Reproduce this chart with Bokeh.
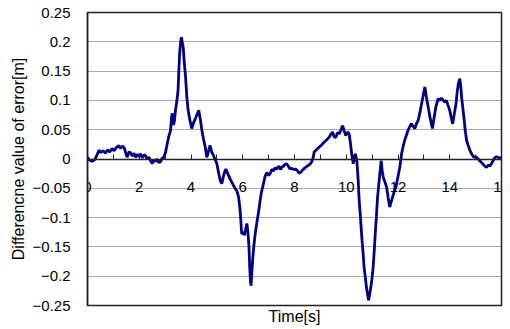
from bokeh.plotting import figure
from bokeh.models import LinearAxis, FixedTicker, Range1d
from bokeh.embed import file_html
from bokeh.resources import INLINE

time_s = [0.00, 0.08, 0.18, 0.28, 0.36, 0.44, 0.52, 0.60, 0.70, 0.78, 0.86, 0.95, 1.03, 1.12, 1.21, 1.28, 1.35, 1.42, 1.48, 1.53,
          1.60, 1.66, 1.73, 1.80, 1.86, 1.93, 2.00, 2.05, 2.12, 2.18, 2.24, 2.30, 2.37, 2.44, 2.50, 2.56, 2.63, 2.69, 2.75, 2.82,
          2.88, 2.95, 3.02, 3.08, 3.14, 3.21, 3.25, 3.28, 3.32, 3.36, 3.40, 3.45, 3.50, 3.53, 3.56, 3.60, 3.63, 3.66, 3.70, 3.74,
          3.79, 3.84, 3.89, 3.95, 4.03, 4.10, 4.18, 4.25, 4.30, 4.36, 4.42, 4.48, 4.55, 4.61, 4.66, 4.70, 4.74, 4.80, 4.87, 4.94,
          5.00, 5.06, 5.13, 5.19, 5.25, 5.30, 5.35, 5.42, 5.51, 5.58, 5.64, 5.70, 5.77, 5.84, 5.90, 5.96, 6.02, 6.07, 6.12, 6.16,
          6.20, 6.24, 6.27, 6.30, 6.32, 6.35, 6.39, 6.43, 6.48, 6.53, 6.58, 6.63, 6.67, 6.73, 6.80, 6.86, 6.93, 7.00, 7.06, 7.12,
          7.19, 7.25, 7.32, 7.40, 7.46, 7.51, 7.58, 7.64, 7.70, 7.77, 7.83, 7.90, 7.97, 8.03, 8.10, 8.17, 8.24, 8.31, 8.38, 8.44,
          8.52, 8.60, 8.66, 8.72, 8.76, 8.85, 8.95, 9.05, 9.15, 9.25, 9.34, 9.40, 9.47, 9.53, 9.60, 9.66, 9.73, 9.80, 9.86, 9.92,
          9.98, 10.05, 10.11, 10.16, 10.21, 10.27, 10.31, 10.35, 10.41, 10.46, 10.50, 10.55, 10.60, 10.65, 10.69, 10.74, 10.78,
          10.83, 10.86, 10.90, 10.95, 11.00, 11.04, 11.08, 11.12, 11.17, 11.21, 11.26, 11.30, 11.35, 11.39, 11.43, 11.50, 11.56,
          11.62, 11.68, 11.73, 11.79, 11.85, 11.92, 12.00, 12.07, 12.14, 12.20, 12.26, 12.32, 12.39, 12.45, 12.52, 12.58, 12.65,
          12.72, 12.78, 12.85, 12.91, 12.98, 13.04, 13.10, 13.17, 13.25, 13.33, 13.40, 13.46, 13.55, 13.62, 13.68, 13.75, 13.81,
          13.87, 13.93, 14.00, 14.06, 14.11, 14.18, 14.24, 14.29, 14.33, 14.39, 14.43, 14.46, 14.51, 14.56, 14.60, 14.65, 14.72,
          14.78, 14.85, 14.93, 15.00, 15.10, 15.18, 15.27, 15.35, 15.42, 15.50, 15.56, 15.61, 15.70, 15.76, 15.81, 15.90, 16.00]

error_m = [0.003, -0.002, -0.004, -0.001, 0.006, 0.015, 0.011, 0.014, 0.010, 0.016, 0.012, 0.018, 0.014, 0.020, 0.023, 0.018, 0.022, 0.019, 0.010, 0.003,
           0.012, 0.011, 0.005, 0.010, 0.003, 0.008, 0.004, 0.009, 0.002, 0.007, 0.006, 0.000, 0.003, -0.003, -0.008, -0.002, -0.004, 0.000, -0.006, -0.005,
           0.001, 0.003, 0.012, 0.026, 0.038, 0.049, 0.072, 0.078, 0.058, 0.065, 0.083, 0.098, 0.117, 0.150, 0.180, 0.200, 0.208, 0.200, 0.190, 0.165,
           0.140, 0.105, 0.083, 0.068, 0.052, 0.062, 0.070, 0.078, 0.083, 0.068, 0.049, 0.035, 0.020, 0.003, 0.010, 0.018, 0.023, 0.012, 0.006, -0.002,
           -0.008, -0.022, -0.037, -0.042, -0.030, -0.022, -0.017, -0.025, -0.034, -0.040, -0.045, -0.050, -0.054, -0.065, -0.088, -0.128, -0.125, -0.130, -0.118, -0.110,
           -0.125, -0.150, -0.185, -0.210, -0.216, -0.195, -0.168, -0.148, -0.128, -0.113, -0.099, -0.085, -0.071, -0.055, -0.042, -0.030, -0.023, -0.028, -0.025, -0.018,
           -0.020, -0.015, -0.017, -0.012, -0.018, -0.014, -0.012, -0.009, -0.008, -0.013, -0.017, -0.016, -0.018, -0.017, -0.019, -0.024, -0.023, -0.019, -0.016, -0.014,
           -0.011, -0.009, -0.005, 0.002, 0.012, 0.016, 0.020, 0.024, 0.029, 0.033, 0.037, 0.042, 0.046, 0.038, 0.037, 0.045, 0.043, 0.050, 0.057, 0.048,
           0.040, 0.046, 0.043, 0.028, 0.009, -0.008, 0.000, 0.009, -0.003, -0.035, -0.071, -0.100, -0.133, -0.160, -0.185, -0.203, -0.219,
           -0.232, -0.241, -0.232, -0.219, -0.202, -0.185, -0.158, -0.128, -0.095, -0.065, -0.042, -0.025, -0.003, -0.020, -0.031, -0.040, -0.048,
           -0.066, -0.082, -0.074, -0.065, -0.056, -0.048, -0.030, -0.014, 0.009, 0.022, 0.032, 0.040, 0.049, 0.055, 0.060, 0.056, 0.052,
           0.061, 0.066, 0.080, 0.094, 0.110, 0.123, 0.105, 0.088, 0.068, 0.052, 0.072, 0.088, 0.103, 0.100, 0.104, 0.100, 0.097,
           0.100, 0.092, 0.083, 0.070, 0.060, 0.078, 0.094, 0.115, 0.128, 0.137, 0.122, 0.105, 0.085, 0.066, 0.048, 0.032, 0.022,
           0.015, 0.008, 0.003, 0.004, 0.000, -0.004, -0.008, -0.012, -0.014, -0.010, -0.012, -0.008, -0.001, 0.003, 0.004, 0.002, 0.002]

x_ticks = list(range(0, 17))
x_tick_labels = {t: (str(t) if t % 2 == 0 else "") for t in x_ticks}
y_ticks = [-0.25, -0.2, -0.15, -0.1, -0.05, 0.0, 0.05, 0.1, 0.15, 0.2, 0.25]
y_tick_labels = ["\u22120.25", "\u22120.2", "\u22120.15", "\u22120.1", "\u22120.05", "0", "0.05", "0.1", "0.15", "0.2", "0.25"]

FONT = "Liberation Sans"

p = figure(width=510, height=329, output_backend="svg", toolbar_location=None,
           x_range=Range1d(0, 16), y_range=Range1d(-0.25, 0.25),
           min_border_left=87, min_border_right=9, min_border_top=12, min_border_bottom=24,
           background_fill_color="white", border_fill_color="white")

p.outline_line_color = "#222222"
p.outline_line_width = 1.5

# main x axis drawn at y = 0
xa = p.xaxis[0]
xa.fixed_location = 0
xa.ticker = FixedTicker(ticks=x_ticks, minor_ticks=[])
xa.major_label_overrides = x_tick_labels
xa.major_tick_in = 5
xa.major_tick_out = 0
xa.major_tick_line_color = "#222222"
xa.axis_line_color = "#222222"
xa.axis_line_width = 1.5
xa.major_label_standoff = 23
xa.major_label_text_font = FONT
xa.major_label_text_font_size = "15px"
xa.major_label_text_color = "black"

# bottom axis carrying only the title
bx = LinearAxis(ticker=FixedTicker(ticks=[]), axis_label="Time[s]")
bx.axis_line_color = None
bx.major_tick_line_color = None
bx.minor_tick_line_color = None
bx.major_label_text_font_size = "0px"
bx.major_label_standoff = 0
bx.axis_label_standoff = 2
bx.axis_label_text_font = FONT
bx.axis_label_text_font_size = "16px"
bx.axis_label_text_font_style = "normal"
bx.axis_label_text_color = "black"
p.add_layout(bx, "below")

ya = p.yaxis[0]
ya.ticker = FixedTicker(ticks=y_ticks, minor_ticks=[])
ya.major_label_overrides = {t: s for t, s in zip(y_ticks, y_tick_labels)}
ya.major_tick_in = 0
ya.major_tick_out = 0
ya.axis_line_color = "#222222"
ya.axis_line_width = 1.5
ya.major_label_standoff = 17
ya.major_label_text_font = FONT
ya.major_label_text_font_size = "15px"
ya.major_label_text_color = "black"
ya.axis_label = "Differencne value of error[m]"
ya.axis_label_standoff = 3
ya.axis_label_text_font = FONT
ya.axis_label_text_font_size = "16px"
ya.axis_label_text_font_style = "normal"
ya.axis_label_text_color = "black"

p.xgrid.grid_line_color = None
p.ygrid.grid_line_color = "#555555"
p.ygrid.grid_line_dash = "1 1"
p.ygrid.grid_line_width = 1

p.line(time_s, error_m, line_color="#000080", line_width=2.8)

open("out.html", "w").write(file_html(p, INLINE))
